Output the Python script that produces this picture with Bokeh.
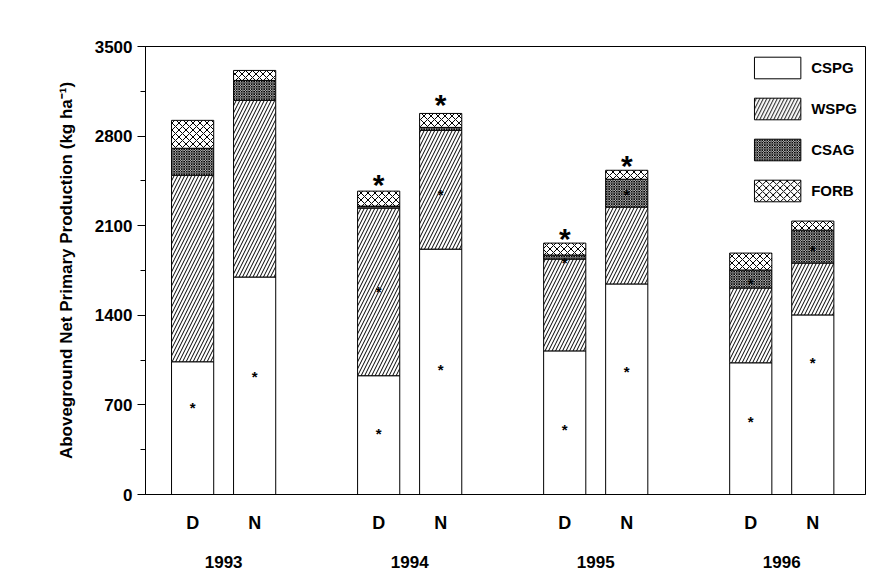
from bokeh.plotting import figure
from bokeh.models import LinearAxis, FixedTicker, Range1d, Legend, LegendItem
from bokeh.embed import file_html
from bokeh.resources import INLINE
from bokeh.core.properties import value

years = ["1993", "1994", "1995", "1996"]
treat = ["D", "N", "D", "N", "D", "N", "D", "N"]
cspg = [1037, 1699, 928, 1917, 1122, 1645, 1029, 1403]
wspg = [1457, 1380, 1309, 928, 717, 600, 584, 405]
csag = [211, 156, 16, 23, 32, 218, 141, 257]
forb = [218, 78, 117, 109, 93, 70, 132, 71]
small_star_x = [0, 1, 3, 3, 4, 4, 6, 6, 7, 7, 9, 9, 10, 10]
small_star_y = [709, 951, 507, 1621, 1005, 2377, 538, 1845, 990, 2377, 600, 1676, 1060, 1941]
big_star_x = [3, 4, 6, 7]
big_star_y = [2470, 3090, 2050, 2620]

xs = [0, 1, 3, 4, 6, 7, 9, 10]
b1 = cspg
b2 = [a + b for a, b in zip(b1, wspg)]
b3 = [a + b for a, b in zip(b2, csag)]
b4 = [a + b for a, b in zip(b3, forb)]

F = "Liberation Sans"
p = figure(width=869, height=570, output_backend="svg", toolbar_location=None,
           x_range=Range1d(-0.76, 10.85), y_range=Range1d(0, 3500),
           min_border_left=145, min_border_right=4, min_border_top=46, min_border_bottom=75)
p.grid.visible = False
p.outline_line_color = "black"
w = 0.68
common = dict(x=xs, width=w, fill_color="white", line_color="black", line_width=1)
r1 = p.vbar(bottom=0, top=b1, **common)
r2 = p.vbar(bottom=b1, top=b2, hatch_pattern="right_diagonal_line", hatch_scale=7, hatch_weight=1, hatch_color="black", **common)
r3 = p.vbar(bottom=b2, top=b3, hatch_pattern="diagonal_cross", hatch_scale=2.5, hatch_weight=1, hatch_color="black", **common)
r4 = p.vbar(bottom=b3, top=b4, hatch_pattern="diagonal_cross", hatch_scale=7, hatch_weight=1, hatch_color="black", **common)

p.text(x=small_star_x, y=small_star_y, text=["*"] * len(small_star_x), text_align="center",
       text_baseline="middle", text_font=value(F), text_font_size="15px", text_font_style="bold", y_offset=4)
p.text(x=big_star_x, y=big_star_y, text=["*"] * len(big_star_x), text_align="center",
       text_baseline="middle", text_font=value(F), text_font_size="30px", text_font_style="bold", y_offset=6)

p.xaxis.ticker = FixedTicker(ticks=xs)
p.xaxis.major_label_overrides = {x: t for x, t in zip(xs, treat)}
p.xaxis.major_tick_line_color = None
p.xaxis.minor_tick_line_color = None
p.xaxis.major_label_text_font = F
p.xaxis.major_label_text_font_style = "bold"
p.xaxis.major_label_text_font_size = "18px"
p.xaxis.major_label_text_color = "black"
p.xaxis.major_label_standoff = 12

ax2 = LinearAxis(ticker=FixedTicker(ticks=[0.5, 3.5, 6.5, 9.5]),
                 major_label_overrides={0.5: years[0], 3.5: years[1], 6.5: years[2], 9.5: years[3]},
                 axis_line_color=None, major_tick_line_color=None, minor_tick_line_color=None,
                 major_label_text_font=F, major_label_text_font_style="bold", major_label_text_font_size="17px",
                 major_label_text_color="black", major_label_standoff=14)
p.add_layout(ax2, "below")

p.yaxis.ticker = FixedTicker(ticks=list(range(0, 3501, 700)), minor_ticks=list(range(0, 3501, 350)))
p.yaxis.major_label_text_font = F
p.yaxis.major_label_text_font_style = "bold"
p.yaxis.major_label_text_font_size = "17px"
p.yaxis.major_label_text_color = "black"
p.yaxis.major_tick_in = 0
p.yaxis.major_tick_out = 8
p.yaxis.minor_tick_in = 0
p.yaxis.minor_tick_out = 5
p.yaxis.axis_label = "Aboveground Net Primary Production (kg ha\u207b\u00b9)"
p.yaxis.axis_label_text_font = F
p.yaxis.axis_label_text_font_style = "bold"
p.yaxis.axis_label_text_font_size = "17px"
p.yaxis.axis_label_text_color = "black"
p.yaxis.axis_label_standoff = 16

leg = Legend(items=[LegendItem(label="CSPG", renderers=[r1]), LegendItem(label="WSPG", renderers=[r2]),
                    LegendItem(label="CSAG", renderers=[r3]), LegendItem(label="FORB", renderers=[r4])],
             location="top_right", border_line_color=None, background_fill_alpha=0,
             label_text_font=F, label_text_font_style="bold", label_text_font_size="15px",
             label_text_color="black",
             glyph_width=58, glyph_height=27, spacing=14, margin=8)
p.add_layout(leg)

open("out.html", "w").write(file_html(p, INLINE))
